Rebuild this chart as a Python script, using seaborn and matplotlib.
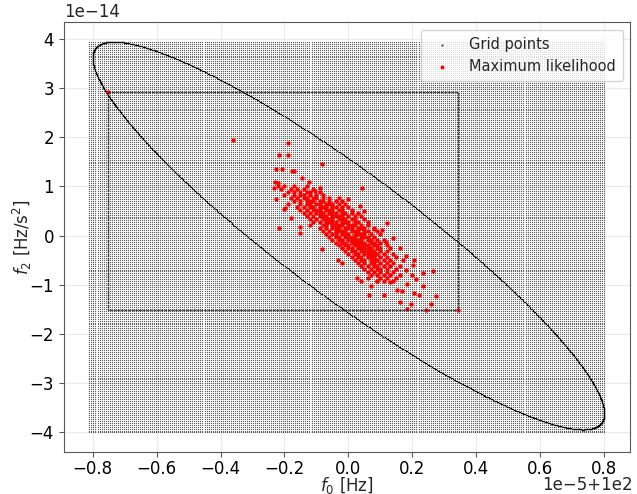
import numpy as np
import pandas as pd
import matplotlib.pyplot as plt
import seaborn as sns

# x values are 100 Hz + f0 * 1e-5, y values are f2 * 1e-14
F0_REF = 100.0
F0_UNIT = 1e-5
F2_UNIT = 1e-14

# template grid extent and resolution
grid_f0_range = [-0.81, 0.80]
grid_f2_range = [-4.00, 3.94]
grid_shape = (256, 200)

# metric ellipse: half extents along each axis and tilt phase
ellipse_f0_half = 0.80
ellipse_f2_half = 3.94
ellipse_phase = 0.41

# maximum likelihood estimates, dense core read row by row (f2, [f0 ...])
core_rows = [
    (1.00, [-0.22, -0.20, -0.17, -0.13]),
    (0.94, [-0.21, -0.18, -0.16, -0.14, -0.11]),
    (0.88, [-0.19, -0.17, -0.15, -0.13, -0.12, -0.09]),
    (0.82, [-0.20, -0.17, -0.15, -0.14, -0.12, -0.10, -0.08]),
    (0.76, [-0.18, -0.16, -0.14, -0.13, -0.11, -0.10, -0.08, -0.06, -0.03]),
    (0.70, [-0.17, -0.15, -0.13, -0.12, -0.11, -0.09, -0.08, -0.06, -0.04, -0.02]),
    (0.64, [-0.19, -0.15, -0.13, -0.12, -0.10, -0.09, -0.07, -0.06, -0.05, -0.03, -0.01]),
    (0.58, [-0.16, -0.14, -0.12, -0.11, -0.09, -0.08, -0.07, -0.05, -0.04, -0.02, 0.00]),
    (0.52, [-0.15, -0.13, -0.11, -0.10, -0.09, -0.07, -0.06, -0.05, -0.03, -0.02, 0.01]),
    (0.46, [-0.14, -0.12, -0.10, -0.09, -0.08, -0.06, -0.05, -0.04, -0.02, -0.01, 0.01, 0.03]),
    (0.40, [-0.13, -0.11, -0.09, -0.08, -0.07, -0.05, -0.04, -0.03, -0.02, 0.00, 0.02, 0.04]),
    (0.34, [-0.12, -0.10, -0.08, -0.07, -0.06, -0.05, -0.03, -0.02, -0.01, 0.01, 0.02, 0.05]),
    (0.28, [-0.11, -0.09, -0.07, -0.06, -0.05, -0.04, -0.02, -0.01, 0.00, 0.02, 0.03, 0.06]),
    (0.22, [-0.12, -0.08, -0.07, -0.05, -0.04, -0.03, -0.02, 0.00, 0.01, 0.02, 0.04, 0.06]),
    (0.16, [-0.09, -0.07, -0.05, -0.04, -0.03, -0.01, 0.00, 0.01, 0.03, 0.04, 0.05, 0.08]),
    (0.10, [-0.08, -0.06, -0.04, -0.03, -0.02, -0.01, 0.01, 0.02, 0.03, 0.05, 0.06, 0.09]),
    (0.04, [-0.07, -0.05, -0.04, -0.02, -0.01, 0.00, 0.02, 0.03, 0.04, 0.05, 0.07, 0.10]),
    (-0.02, [-0.06, -0.04, -0.03, -0.01, 0.00, 0.01, 0.02, 0.04, 0.05, 0.06, 0.08]),
    (-0.08, [-0.05, -0.03, -0.02, 0.00, 0.01, 0.02, 0.03, 0.04, 0.06, 0.07, 0.09, 0.11]),
    (-0.14, [-0.04, -0.02, -0.01, 0.01, 0.02, 0.03, 0.04, 0.05, 0.07, 0.08, 0.10]),
    (-0.20, [-0.03, -0.01, 0.00, 0.02, 0.03, 0.04, 0.05, 0.06, 0.08, 0.09, 0.12]),
    (-0.26, [-0.02, 0.00, 0.01, 0.03, 0.04, 0.05, 0.06, 0.07, 0.09, 0.10, 0.13]),
    (-0.32, [-0.01, 0.01, 0.02, 0.04, 0.05, 0.06, 0.07, 0.08, 0.10, 0.12]),
    (-0.38, [0.00, 0.02, 0.03, 0.05, 0.06, 0.07, 0.08, 0.09, 0.11, 0.14]),
    (-0.44, [0.01, 0.03, 0.04, 0.06, 0.07, 0.08, 0.10, 0.12, 0.15]),
    (-0.50, [0.02, 0.04, 0.05, 0.07, 0.08, 0.09, 0.11, 0.13, 0.17]),
    (-0.56, [0.03, 0.05, 0.07, 0.08, 0.10, 0.12, 0.14]),
    (-0.62, [0.04, 0.06, 0.08, 0.09, 0.11, 0.13, 0.16]),
    (-0.68, [0.05, 0.07, 0.09, 0.10, 0.12, 0.15]),
    (-0.74, [0.06, 0.08, 0.10, 0.12, 0.14]),
    (-0.80, [0.07, 0.09, 0.11, 0.13, 0.16]),
    (-0.86, [0.06, 0.10, 0.12, 0.15]),
    (-0.92, [0.09, 0.11, 0.14]),
]

# scattered estimates outside the core
outlier_f0 = [-0.753, -0.361, -0.190, -0.216, -0.190, -0.083, -0.226, -0.207, -0.177, -0.170,
              -0.145, -0.229, -0.219, -0.234, -0.124, -0.088, -0.104, 0.043, -0.226, -0.198,
              -0.216, -0.153, 0.035, 0.079, 0.106, 0.116, -0.083, -0.034, 0.027, 0.038,
              0.069, 0.064, 0.111, 0.090, 0.153, 0.168, 0.181, 0.205, 0.203, 0.233,
              0.263, 0.210, 0.234, 0.184, 0.161, 0.195, 0.221, 0.205, 0.259, 0.275,
              0.184, 0.242, 0.342, -0.200, -0.180, -0.150, 0.140, 0.120, 0.050, 0.000,
              0.160, 0.180, -0.020, 0.130, 0.200]
outlier_f2 = [2.92, 1.95, 1.89, 1.64, 1.64, 1.46, 1.36, 1.36, 1.32, 1.32,
              1.18, 1.10, 1.07, 0.96, 1.09, 0.96, 0.91, 0.96, 0.75, 0.56,
              0.16, 0.17, 0.61, 0.14, 0.12, -0.12, -0.27, -0.49, -0.86, -0.93,
              -1.03, -1.21, -1.21, -0.93, -1.10, -1.13, -0.42, -0.49, -0.59, -0.76,
              -0.72, -0.89, -1.03, -0.99, -1.35, -1.39, -1.21, -1.16, -1.38, -1.23,
              -1.50, -1.52, -1.52, 0.55, 0.35, 0.05, -0.05, 0.25, 0.50, 0.75,
              -0.25, -0.70, -0.55, -0.95, -0.80]

# ---- assemble data frames ----
ml_f0 = [x for y, xs in core_rows for x in xs] + outlier_f0
ml_f2 = [y for y, xs in core_rows for x in xs] + outlier_f2
ml = pd.DataFrame({'f0': F0_REF + np.array(ml_f0) * F0_UNIT,
                   'f2': np.array(ml_f2) * F2_UNIT})

gx, gy = np.meshgrid(np.linspace(*grid_f0_range, grid_shape[0]),
                     np.linspace(*grid_f2_range, grid_shape[1]))
grid = pd.DataFrame({'f0': F0_REF + gx.ravel() * F0_UNIT, 'f2': gy.ravel() * F2_UNIT})

t = np.linspace(0, 2 * np.pi, 1500)
ell = pd.DataFrame({'f0': F0_REF + ellipse_f0_half * np.cos(t) * F0_UNIT,
                    'f2': -ellipse_f2_half * np.cos(t - ellipse_phase) * F2_UNIT})

# bounding box of the maximum likelihood estimates
x0, x1 = ml['f0'].min(), ml['f0'].max()
y0, y1 = ml['f2'].min(), ml['f2'].max()

sns.set_style('white', {'axes.edgecolor': '0.35', 'xtick.color': '0.35', 'ytick.color': '0.35',
                        'xtick.bottom': True, 'ytick.left': True})
plt.rcParams['font.size'] = 12
plt.rcParams['xtick.labelcolor'] = 'black'
plt.rcParams['ytick.labelcolor'] = 'black'

fig = plt.figure(figsize=(6.37, 4.94), dpi=100)
ax = fig.add_axes([0.100, 0.085, 0.889, 0.870])

sns.scatterplot(data=grid, x='f0', y='f2', s=0.8, color='0.35', linewidth=0,
                label='Grid points', ax=ax, rasterized=True)
sns.scatterplot(data=ell, x='f0', y='f2', s=0.9, color='k', linewidth=0, ax=ax)
ax.plot([x0, x1, x1, x0, x0], [y1, y1, y0, y0, y1], color='0.2', lw=1.0, ls=(0, (2, 0.6)))
sns.scatterplot(data=ml, x='f0', y='f2', s=10, color='red', linewidth=0,
                label='Maximum likelihood', ax=ax)

ax.grid(True, color='0.92', lw=0.8)
ax.set_axisbelow(True)
ax.tick_params(labelsize=12)
ax.tick_params(axis='x', pad=2)
ax.set_xlabel('$f_0$ [Hz]', fontsize=12, labelpad=-2)
ax.set_ylabel('$f_2$ [Hz/s$^2$]', fontsize=12, labelpad=-3)
leg = ax.legend(loc='upper right', fontsize=10.5, borderpad=0.5)
leg.legend_handles[0].set_sizes([3])
leg.legend_handles[1].set_sizes([8])

# freeze tick labels and write the axis offsets where the reference shows them
fig.canvas.draw()
x_off = ax.xaxis.get_major_formatter().get_offset()
y_off = ax.yaxis.get_major_formatter().get_offset()
xlim, ylim = ax.get_xlim(), ax.get_ylim()
ax.set_xticks(ax.get_xticks(), [tl.get_text() for tl in ax.get_xticklabels()])
ax.set_yticks(ax.get_yticks(), [tl.get_text() for tl in ax.get_yticklabels()])
ax.set_xlim(xlim)
ax.set_ylim(ylim)
ax.xaxis.offsetText.set_visible(False)
ax.yaxis.offsetText.set_visible(False)
fig.text(0.994, 0.018, x_off, ha='right', va='center', fontsize=12)
fig.text(0.100, 0.975, y_off, ha='left', va='center', fontsize=12)

plt.savefig('out.png', dpi=100)
